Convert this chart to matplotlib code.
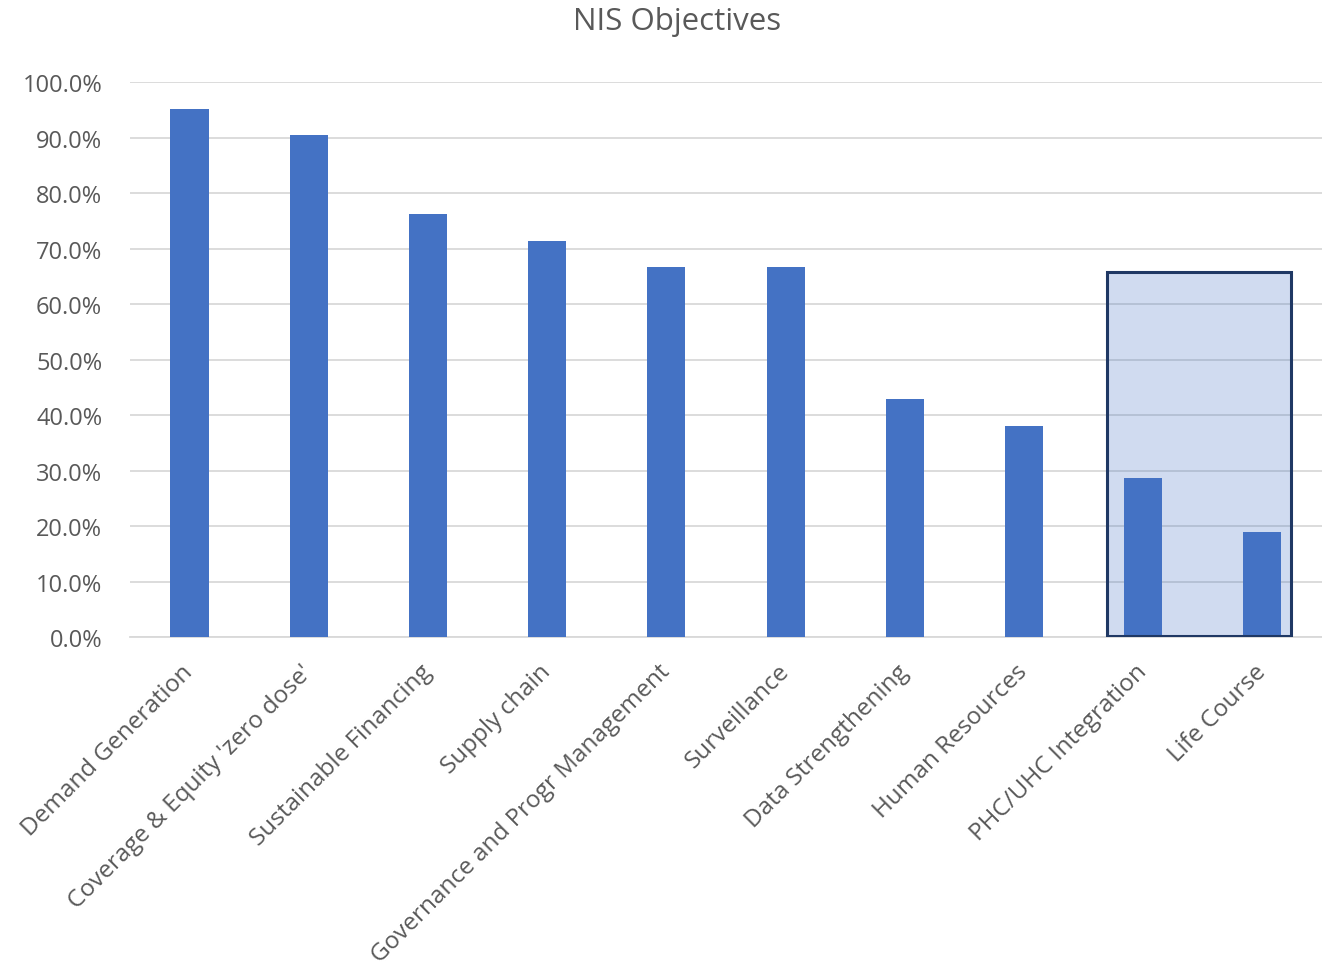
import matplotlib
matplotlib.use("Agg")
import matplotlib.pyplot as plt
from matplotlib.patches import Rectangle
from matplotlib.ticker import FuncFormatter

categories = [
    "Demand Generation",
    "Coverage & Equity 'zero dose'",
    "Sustainable Financing",
    "Supply chain",
    "Governance and Progr Management",
    "Surveillance",
    "Data Strengthening",
    "Human Resources",
    "PHC/UHC Integration",
    "Life Course",
]
values = [95.2, 90.5, 76.2, 71.4, 66.7, 66.7, 42.9, 38.1, 28.6, 19.0]
y_ticks = [0, 10, 20, 30, 40, 50, 60, 70, 80, 90, 100]

# highlighted group: last two objectives, box up to this level
highlight_start = 8
highlight_top = 65.7

plt.rcParams["font.family"] = ["Open Sans", "DejaVu Sans"]
text_color = "#595959"
bar_color = "#4472C4"

fig = plt.figure(figsize=(13.22, 9.70), dpi=100)
ax = fig.add_axes([0.0983, 0.342, 0.9017, 0.5724])

x = list(range(len(categories)))
ax.bar(x, values, width=0.32, color=bar_color, zorder=3)

# highlight box around the last two objectives
ax.add_patch(Rectangle((highlight_start - 0.304, 0.2), 1.54, highlight_top - 0.2,
                       facecolor=bar_color, alpha=0.25, edgecolor="none", zorder=1))
ax.add_patch(Rectangle((highlight_start - 0.304, 0.2), 1.54, highlight_top - 0.2,
                       facecolor="none", edgecolor="#1F3864", linewidth=2.2, zorder=4))

ax.set_xlim(-0.5, len(categories) - 0.5)
ax.set_ylim(0, 100)
ax.set_yticks(y_ticks)
ax.yaxis.set_major_formatter(FuncFormatter(lambda v, p: f"{v:.1f}%"))
ax.grid(axis="y", color="#D9D9D9", linewidth=1.3, zorder=0)
ax.set_axisbelow(True)

for s in ["top", "right", "left"]:
    ax.spines[s].set_visible(False)
ax.spines["bottom"].set_color("#D9D9D9")
ax.spines["bottom"].set_linewidth(1.3)
ax.spines["bottom"].set_zorder(2)

ax.set_xticks(x)
ax.set_xticklabels(categories, rotation=45, ha="right", va="center",
                   rotation_mode="anchor", fontsize=17.5, color=text_color)
ax.tick_params(axis="x", length=0, pad=22)
ax.tick_params(axis="y", length=0, pad=20, labelsize=17, labelcolor=text_color)

fig.text(677 / 1322, 1 - 22 / 970, "NIS Objectives", ha="center", va="center",
         fontsize=22.5, color=text_color)

fig.savefig("out.png", dpi=100)
